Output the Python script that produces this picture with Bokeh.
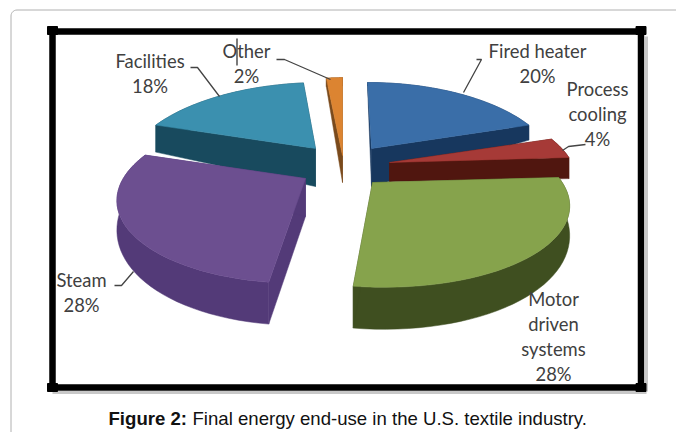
import numpy as np
from bokeh.plotting import figure
from bokeh.embed import file_html
from bokeh.resources import INLINE
from bokeh.core.properties import value

# ---- data ----
categories = ["Fired heater", "Process cooling", "Motor driven systems", "Steam", "Facilities", "Other"]
shares = [20, 4, 28, 28, 18, 2]
labels = [["Fired heater", "20%"], ["Process", "cooling", "4%"], ["Motor", "driven", "systems", "28%"],
          ["Steam", "28%"], ["Facilities", "18%"], ["Other", "2%"]]
top_colors = ["#3A6EA8", "#A63A37", "#86A34C", "#6C4F90", "#3B90AF", "#DC8431"]
side_colors = ["#17375E", "#50160F", "#3F4F20", "#533A78", "#184A5E", "#7A4A1C"]
# ---- layout of the exploded, tilted pie (page pixels) ----
apex_x = [371, 389, 372, 305, 315, 342]
apex_y = [148, 162, 182, 178, 148, 155]
x_scale = [0.96, 0.98, 1.02, 0.98, 0.98, 0.85]
y_scale = [1.0, 1.0, 1.0, 1.0, 1.0, 1.18]
shear = [0.06, 0.0, 0.11, -0.07, -0.10, 0.0]
rim_add = [-5, -3, 0, 0, 7, 0]
apex_depth = [38, 19, 38, 38, 38, 27]
RX, RY, PERSP = 186, 81, 0.227

def proj(theta):
    c = np.cos(theta); s = np.sin(theta)
    f = 1 / (1 + PERSP * c)
    return RX * s * f, -RY * c * f

def rim_depth(theta):
    return 20 + (0.309 - np.cos(theta)) * 16.8

W, H = 676, 432
p = figure(width=W, height=H, output_backend="svg", toolbar_location=None,
           x_range=(0, W), y_range=(H, 0), min_border=0)
p.axis.visible = False
p.grid.visible = False
p.outline_line_color = None

# card outline
t = np.linspace(np.pi, 1.5 * np.pi, 8)
cx = list(10.5 + 6 + 6 * np.cos(t)) + [676]
cy = list(9.5 + 6 + 6 * np.sin(t)) + [9.5]
p.line([10.5] + cx, [432] + cy, line_color="#b0b0b0", line_width=1)

# frame shadow + frame
p.line([646, 646], [36, 391], line_color="#c8c8c8", line_width=3)
p.line([52, 646], [392, 392], line_color="#c8c8c8", line_width=3)
p.line([52, 52, 640.5, 640.5, 52], [31, 387, 387, 31, 31], line_color="black", line_width=6.5)
for nx, ny in [(52, 30), (640.5, 30), (52, 387), (640.5, 387)]:
    p.quad(left=nx - 5, right=nx + 5, top=ny - 4, bottom=ny + 4, color="black")

# slices
starts = np.cumsum([0] + shares[:-1]) / sum(shares) * 2 * np.pi
ends = np.cumsum(shares) / sum(shares) * 2 * np.pi
draw_order = [5, 4, 0, 1, 3, 2]
for i in draw_order:
    th = np.linspace(starts[i], ends[i], 40)
    dx, dy = proj(th)
    xs = apex_x[i] + x_scale[i] * dx + shear[i] * dy
    ys = apex_y[i] + y_scale[i] * dy
    d = rim_depth(th) + rim_add[i]
    # outer wall
    p.patch(np.r_[xs, xs[::-1]], np.r_[ys, (ys + d)[::-1]], color=side_colors[i], line_width=0.5)
    # two cut walls
    for k in (0, -1):
        p.patch([apex_x[i], xs[k], xs[k], apex_x[i]],
                [apex_y[i], ys[k], ys[k] + d[k], apex_y[i] + apex_depth[i]],
                color=side_colors[i], line_width=0.5)
    p.patch(np.r_[apex_x[i], xs], np.r_[apex_y[i], ys], color=top_colors[i], line_width=0.5)

# leader lines
leaders = [([476, 481, 463], [59, 59, 92]), ([562, 568, 585], [150, 146, 144]),
           ([114, 121, 133], [285, 285, 271]), ([190, 197, 219], [67, 67, 96]),
           ([276, 284, 330], [59, 59, 79])]
for lx, ly in leaders:
    p.line(lx, ly, line_color="#444444", line_width=1.3)
p.line([236.5, 236.5], [38, 65], line_color="#222222", line_width=1.2)

# labels
centres = [(537, 50), (597, 88), (553, 298), (81, 279), (149.5, 60.5), (246, 50.5)]
for lines, (lxc, lyc) in zip(labels, centres):
    for j, s in enumerate(lines):
        p.text([lxc], [lyc + j * 25.3], text=[s], text_align="center", text_baseline="middle",
               text_font=value("Lato"), text_font_size="18.4px", text_color="#404040")

# caption
p.text([108], [418], text=["Figure 2:"], text_font=value("Liberation Sans"), text_font_style="bold",
       text_font_size="18.6px", text_baseline="middle", text_color="#111111")
p.text([192], [418], text=["Final energy end-use in the U.S. textile industry."],
       text_font=value("Liberation Sans"), text_font_size="18.6px", text_baseline="middle", text_color="#111111")

open("out.html", "w").write(file_html(p, INLINE))
